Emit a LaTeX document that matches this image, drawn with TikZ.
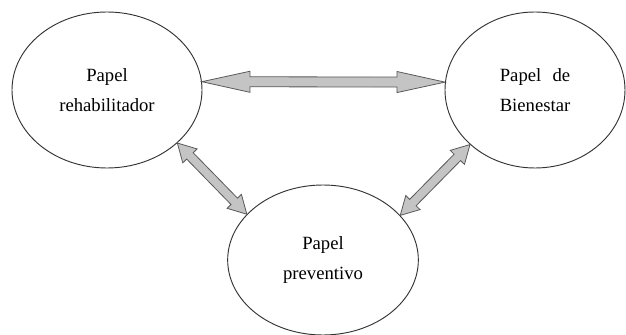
\documentclass[tikz,border=0pt]{standalone}
\usepackage{fontspec}
\setmainfont{Liberation Serif}
\usetikzlibrary{shapes.geometric,calc}

\tikzset{
  role/.style={draw=black!80, line width=0.7pt, ellipse, inner sep=0pt,
    align=center, font=\fontsize{14}{22}\selectfont},
  arrowbody/.style={draw=black!65, line width=0.6pt, fill=black!23, line join=miter}
}

% Double-headed block arrow between two points:
% #1 start, #2 end, #3 shaft half-width, #4 head half-width, #5 head length
\newcommand\blockarrow[5]{%
  \path ($(#1)!#5!(#2)$) coordinate (ba1) ($(#2)!#5!(#1)$) coordinate (ba2);
  \draw[arrowbody] (#1) -- ($(ba1)!#4!90:(#2)$) -- ($(ba1)!#3!90:(#2)$)
    -- ($(ba2)!#3!-90:(#1)$) -- ($(ba2)!#4!-90:(#1)$) -- (#2)
    -- ($(ba2)!#4!90:(#1)$) -- ($(ba2)!#3!90:(#1)$)
    -- ($(ba1)!#3!-90:(#2)$) -- ($(ba1)!#4!-90:(#2)$) -- cycle;}

\begin{document}
\begin{tikzpicture}[x=0.75pt, y=-0.75pt]
  \useasboundingbox (0,0) rectangle (626,335);

  \node[role, minimum width=142.5pt, minimum height=117pt] (reh) at (107,90)
    {Papel\\rehabilitador};
  \node[role, minimum width=135pt, minimum height=117pt] (bien) at (535,90)
    {Papel\hspace{0.6em}de\\Bienestar};
  \node[role, minimum width=143pt, minimum height=112.5pt] (prev) at (323,260)
    {Papel\\preventivo};

  \coordinate (a1) at (reh.5);
  \coordinate (a2) at (bien.175);
  \coordinate (b1) at (reh.-37);
  \coordinate (b2) at (prev.149);
  \coordinate (c1) at (bien.220);
  \coordinate (c2) at (prev.30);

  \blockarrow{a1}{a2}{3.75pt}{7.9pt}{36pt}
  \blockarrow{b1}{b2}{3.4pt}{7.5pt}{13.5pt}
  \blockarrow{c1}{c2}{3.4pt}{7.5pt}{13.5pt}
\end{tikzpicture}
\end{document}
